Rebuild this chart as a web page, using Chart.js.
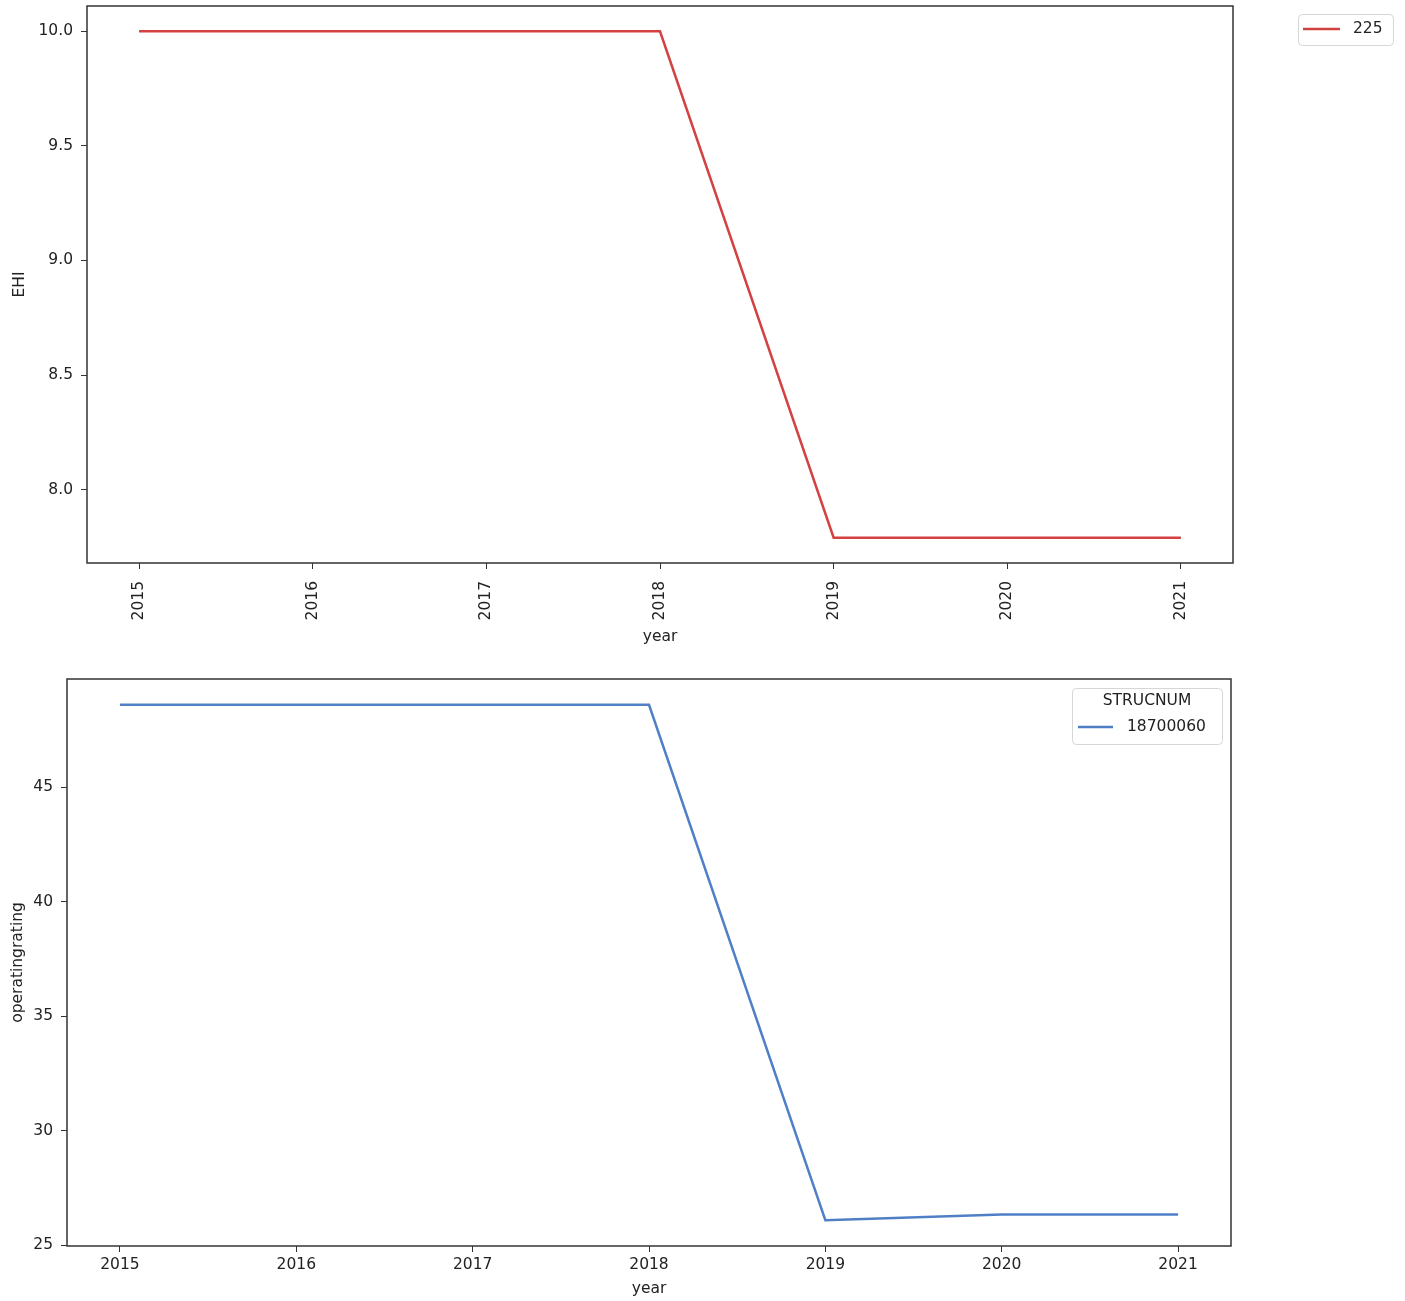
<!DOCTYPE html>
<html>
<head>
<meta charset="utf-8">
<script src="https://cdn.jsdelivr.net/npm/chart.js@4/dist/chart.umd.min.js"></script>
<style>
    body { margin: 0; background: #fff; }
    .panel { position: absolute; left: 0; width: 1405px; }
    #top-panel { top: 0; height: 650px; }
    #bottom-panel { top: 650px; height: 651px; }
</style>
</head>
<body>
<div class="panel" id="top-panel"><canvas id="ehi-chart"></canvas></div>
<div class="panel" id="bottom-panel"><canvas id="rating-chart"></canvas></div>
<script>
// values
const years = [2015, 2016, 2017, 2018, 2019, 2020, 2021];
const ehiValues = [10.0, 10.0, 10.0, 10.0, 7.79, 7.79, 7.79];
const ratingValues = [48.6, 48.6, 48.6, 48.6, 26.1, 26.35, 26.35];
const ehiTicks = [8.0, 8.5, 9.0, 9.5, 10.0];
const ratingTicks = [25, 30, 35, 40, 45];
const ehiLabel = '225';
const ratingLabel = '18700060';
const ratingLegendTitle = 'STRUCNUM';

const FONT = 'DejaVu Sans';
const FONT_SIZE = 15.5;
const TEXT = '#222';
const AXIS = '#333';

Chart.defaults.font.family = FONT;
Chart.defaults.font.size = FONT_SIZE;
Chart.defaults.color = TEXT;

// matplotlib style 5% margins
function paddedRange(vals, pad) {
    const lo = Math.min(...vals);
    const hi = Math.max(...vals);
    const m = (hi - lo) * pad;
    return { min: lo - m, max: hi + m };
}

// full box round the plot area
const framePlugin = {
    id: 'frame',
    afterDraw(chart) {
        const { ctx, chartArea: a } = chart;
        ctx.save();
        ctx.strokeStyle = AXIS;
        ctx.lineWidth = 1.5;
        ctx.strokeRect(a.left, a.top, a.right - a.left, a.bottom - a.top);
        ctx.restore();
    }
};

// matplotlib-like legend box
const boxLegendPlugin = {
    id: 'boxLegend',
    afterDraw(chart, args, opts) {
        const ctx = chart.ctx;
        const ds = chart.data.datasets[0];
        ctx.save();
        ctx.beginPath();
        ctx.roundRect(opts.x + 0.5, opts.y + 0.5, opts.w, opts.h, 4);
        ctx.fillStyle = 'rgba(255,255,255,0.9)';
        ctx.fill();
        ctx.strokeStyle = '#d6d6d6';
        ctx.lineWidth = 1;
        ctx.stroke();

        ctx.font = FONT_SIZE + 'px "' + FONT + '"';
        ctx.fillStyle = TEXT;
        ctx.textBaseline = 'middle';
        if (opts.title) {
            ctx.textAlign = 'center';
            ctx.fillText(opts.title, opts.x + opts.w / 2, opts.titleY);
        }
        ctx.strokeStyle = ds.borderColor;
        ctx.lineWidth = ds.borderWidth;
        ctx.beginPath();
        ctx.moveTo(opts.lineX0, opts.rowY);
        ctx.lineTo(opts.lineX1, opts.rowY);
        ctx.stroke();
        ctx.textAlign = 'left';
        ctx.fillText(ds.label, opts.textX, opts.rowY);
        ctx.restore();
    }
};

function makeChart(id, values, yTicks, cfg) {
    const yr = paddedRange(values, 0.05);
    const xr = paddedRange(years, 0.05);
    return new Chart(document.getElementById(id), {
        type: 'line',
        data: {
            datasets: [{
                label: cfg.label,
                data: years.map((y, i) => ({ x: y, y: values[i] })),
                borderColor: cfg.color,
                borderWidth: 2.5,
                pointRadius: 0,
                tension: 0,
                fill: false
            }]
        },
        options: {
            responsive: true,
            maintainAspectRatio: false,
            animation: false,
            layout: { padding: cfg.padding },
            plugins: {
                legend: { display: false },
                tooltip: { enabled: false },
                boxLegend: cfg.legend
            },
            scales: {
                x: {
                    type: 'linear',
                    min: xr.min,
                    max: xr.max,
                    afterBuildTicks: s => { s.ticks = years.map(v => ({ value: v })); },
                    afterFit: s => {
                        s.height = cfg.xHeight;
                        s.paddingLeft = 0;
                        s.paddingRight = 0;
                    },
                    ticks: {
                        callback: v => String(v),
                        autoSkip: false,
                        minRotation: cfg.rotate,
                        maxRotation: cfg.rotate,
                        padding: cfg.xPad
                    },
                    grid: { drawOnChartArea: false, tickLength: 6, color: AXIS },
                    border: { display: false },
                    title: { display: true, text: 'year', padding: { top: 0, bottom: 0 } }
                },
                y: {
                    min: yr.min,
                    max: yr.max,
                    afterBuildTicks: s => { s.ticks = yTicks.map(v => ({ value: v })); },
                    afterFit: s => {
                        s.width = cfg.yWidth;
                        s.paddingTop = 0;
                        s.paddingBottom = 0;
                    },
                    ticks: { callback: cfg.fmt, padding: 8 },
                    grid: { drawOnChartArea: false, tickLength: 6, color: AXIS },
                    border: { display: false },
                    title: { display: true, text: cfg.yTitle, padding: { top: cfg.yTitlePad, bottom: 0 } }
                }
            }
        },
        plugins: [framePlugin, boxLegendPlugin]
    });
}

makeChart('ehi-chart', ehiValues, ehiTicks, {
    label: ehiLabel,
    color: '#d34141',
    yTitle: 'EHI',
    fmt: v => v.toFixed(1),
    rotate: 90,
    xPad: 12,
    xHeight: 83,
    yWidth: 87,
    yTitlePad: 11,
    padding: { top: 6, right: 172, left: 0, bottom: 4 },
    legend: { x: 1298, y: 14, w: 95, h: 31, rowY: 29, lineX0: 1303, lineX1: 1340, textX: 1353 }
});

makeChart('rating-chart', ratingValues, ratingTicks, {
    label: ratingLabel,
    color: '#4f80c6',
    yTitle: 'operatingrating',
    fmt: v => String(v),
    rotate: 0,
    xPad: 4,
    xHeight: 52,
    yWidth: 67,
    yTitlePad: 9,
    padding: { top: 29, right: 174, left: 0, bottom: 3 },
    legend: { x: 1072, y: 38, w: 150, h: 56, title: ratingLegendTitle, titleY: 51, rowY: 77, lineX0: 1078, lineX1: 1113, textX: 1127 }
});
</script>
</body>
</html>
